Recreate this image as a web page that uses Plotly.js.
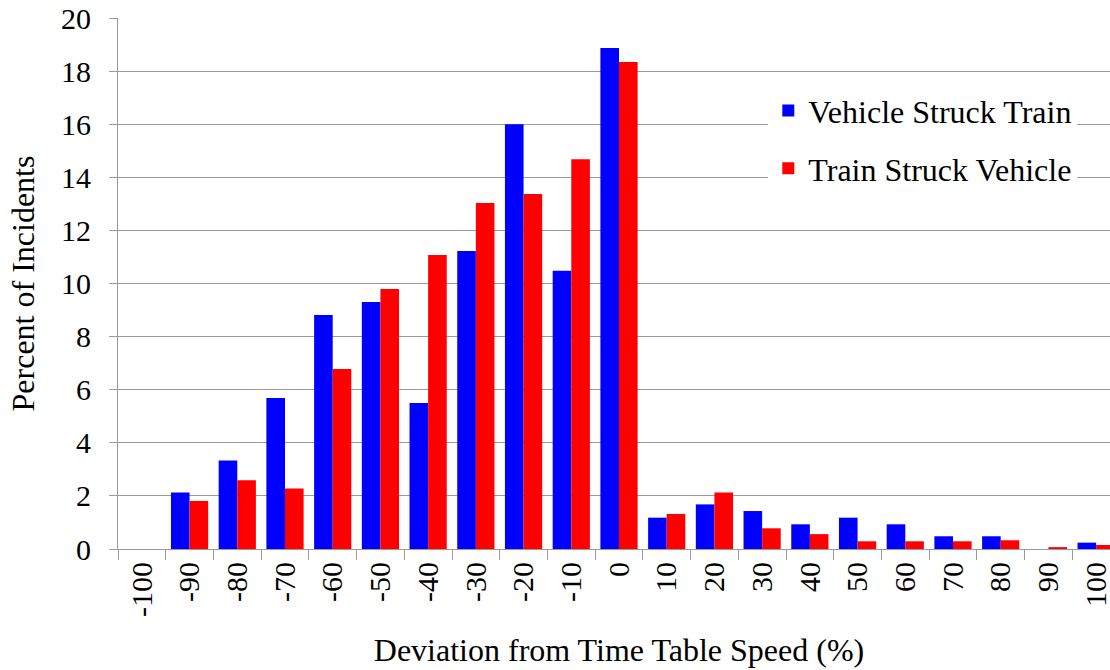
<!DOCTYPE html>
<html>
<head>
<meta charset="utf-8">
<script src="https://cdn.plot.ly/plotly-3.0.1.min.js"></script>
<style>
html,body{margin:0;padding:0;overflow:hidden;background:#fff;}
#chart{width:1120px;height:670px;}
</style>
</head>
<body>
<div id="chart"></div>
<script>
const categories = ["-100","-90","-80","-70","-60","-50","-40","-30","-20","-10","0","10","20","30","40","50","60","70","80","90","100"];
const vehicleStruckTrain = [0, 2.13, 3.33, 5.69, 8.81, 9.30, 5.50, 11.22, 16.0, 10.48, 18.87, 1.18, 1.68, 1.43, 0.93, 1.18, 0.93, 0.48, 0.48, 0, 0.24];
const trainStruckVehicle = [0, 1.81, 2.59, 2.28, 6.78, 9.79, 11.07, 13.03, 13.37, 14.68, 18.34, 1.32, 2.13, 0.78, 0.56, 0.29, 0.29, 0.29, 0.33, 0.07, 0.15];
const yTicks = [0, 2, 4, 6, 8, 10, 12, 14, 16, 18, 20];

const FONT = 'Liberation Serif, DejaVu Serif, serif';
const GRID = '#9a9a9a';

const traces = [
  {
    type: 'bar', name: 'Vehicle Struck Train', x: categories, y: vehicleStruckTrain,
    marker: {color: '#0000ff', line: {width: 0}},
    legendgroup: 'a', hoverinfo: 'x+y'
  },
  {
    type: 'bar', name: 'Train Struck Vehicle', x: categories, y: trainStruckVehicle,
    marker: {color: '#ff0000', line: {width: 0}},
    legendgroup: 'b', hoverinfo: 'x+y'
  }
];

const layout = {
  width: 1120, height: 670,
  margin: {l: 118, r: 0, t: 18, b: 121, pad: 0},
  paper_bgcolor: '#fff', plot_bgcolor: '#fff',
  font: {family: FONT, size: 30, color: '#000'},
  barmode: 'group', bargap: 0.22, bargroupgap: 0,
  showlegend: true,
  legend: {
    x: 0.649, y: 0.877, xanchor: 'left', yanchor: 'top',
    bgcolor: '#fff', borderwidth: 0,
    font: {family: FONT, size: 32, color: '#000'},
    traceorder: 'grouped', tracegroupgap: 13
  },
  xaxis: {
    type: 'category',
    tickangle: -90,
    ticks: 'outside', ticklen: 10, tickcolor: GRID, tickwidth: 1,
    tickson: 'boundaries',
    showline: true, linecolor: GRID, linewidth: 1,
    showgrid: false, zeroline: false,
    tickfont: {family: FONT, size: 30, color: '#000'},
    title: {text: 'Deviation from Time Table Speed (%)', font: {family: FONT, size: 32, color: '#000'}, standoff: 22}
  },
  yaxis: {
    range: [0, 20],
    tickvals: yTicks,
    ticktext: yTicks.map(String),
    ticks: 'outside', ticklen: 8, tickcolor: GRID, tickwidth: 1,
    ticklabelstandoff: 12,
    showline: true, linecolor: GRID, linewidth: 1,
    showgrid: true, gridcolor: GRID, gridwidth: 1,
    zeroline: false,
    tickfont: {family: FONT, size: 30, color: '#000'},
    title: {text: 'Percent of Incidents', font: {family: FONT, size: 32, color: '#000'}, standoff: 16}
  }
};

Plotly.newPlot('chart', traces, layout, {displayModeBar: false, staticPlot: true});
</script>
</body>
</html>
